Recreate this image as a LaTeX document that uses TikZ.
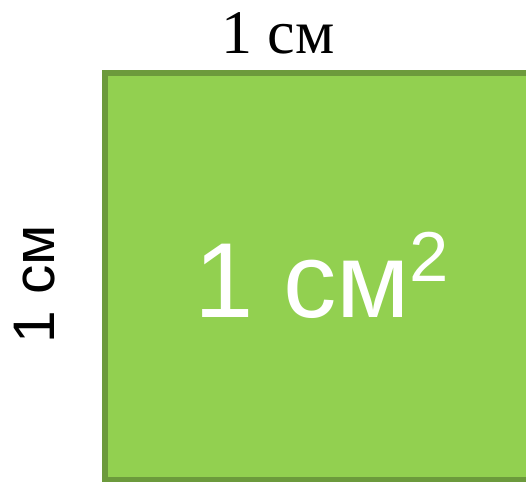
\documentclass[tikz,border=0pt]{standalone}
\usepackage{fontspec}
\setmainfont{Liberation Serif}
\newfontfamily\arialfont{Liberation Sans}
\definecolor{sqfill}{HTML}{92D050}
\definecolor{sqline}{HTML}{6C9A3C}
\begin{document}
\begin{tikzpicture}[x=0.75pt,y=-0.75pt,
  toplabel/.style={font=\fontsize{46.5pt}{50pt}\selectfont, inner sep=0pt, anchor=base},
  sidelabel/.style={font=\arialfont\fontsize{44pt}{48pt}\selectfont, inner sep=0pt, anchor=base, rotate=90},
  arealabel/.style={font=\arialfont\fontsize{80pt}{88pt}\selectfont, text=white, inner sep=0pt, anchor=base}]
\useasboundingbox (0,0) rectangle (526,482);
\begin{scope}
\clip (0,0) rectangle (526,482);
\draw[fill=sqfill, draw=sqline, line width=3.8pt] (105,73) rectangle (560,480);
\end{scope}
\node[toplabel] (top) at (278,53) {1 см};
\node[sidelabel] (side) at (55,284) {1 см};
\node[arealabel] (area) at (302,317) {1 см\rlap{\raisebox{27pt}{\fontsize{53pt}{60pt}\selectfont 2}}};
\end{tikzpicture}
\end{document}
